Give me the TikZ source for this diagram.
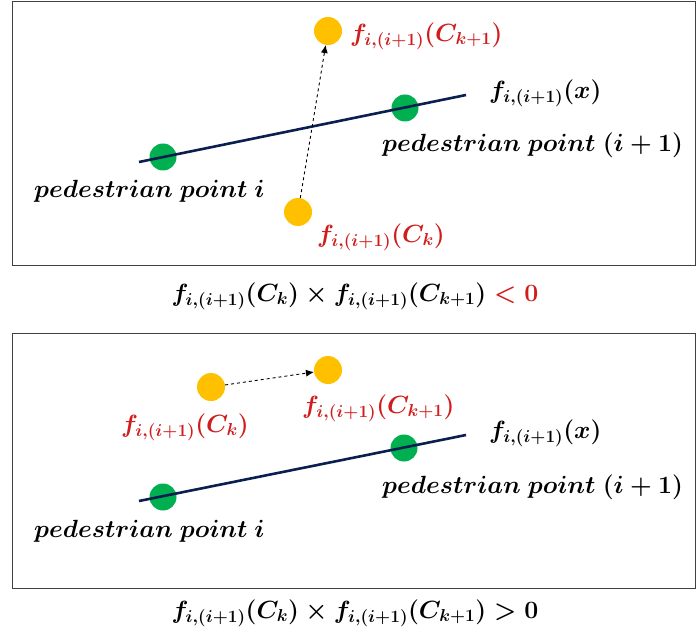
\documentclass[tikz,border=0pt]{standalone}
\usepackage{amsmath,bm}
\usetikzlibrary{arrows.meta}
\definecolor{redlab}{HTML}{D01C1C}
\definecolor{dotyellow}{HTML}{FFC000}
\definecolor{dotgreen}{HTML}{00B050}
\definecolor{navyline}{HTML}{0A1F4F}
\definecolor{boxgray}{HTML}{404040}
\begin{document}
\begin{tikzpicture}[x=1pt,y=-1pt,
  panel/.style={draw=boxgray,line width=1pt},
  gdot/.style={circle,fill=dotgreen,inner sep=0pt,minimum size=27pt},
  ydot/.style={circle,fill=dotyellow,inner sep=0pt,minimum size=28pt},
  fline/.style={draw=navyline,line width=2.6pt},
  move/.style={dashed,line width=0.9pt,-{Latex[length=8pt,width=7pt]}},
  lab/.style={inner sep=0pt,font=\fontsize{23.5}{28}\selectfont\boldmath},
  rlab/.style={lab,text=redlab}]
\useasboundingbox (0,0) rectangle (696,639);
% ---------- top panel ----------
\draw[panel] (12,2) rectangle (695.5,265);
\node[gdot] (g1) at (163,157) {};
\node[gdot] (g2) at (405,108) {};
\coordinate (l1s) at (139,162);
\coordinate (l1e) at (466,95);
\draw[fline] (l1s) -- (l1e);
\node[ydot] (y1b) at (298,212) {};
\node[ydot] (y1t) at (328,31) {};
\draw[move] (y1b) -- (y1t);
\node[lab,anchor=west] (p1a) at (34,191) {$pedestrian\ point\ i$};
\node[lab,anchor=west] (p1b) at (382,145) {$pedestrian\ point\ (i+1)$};
\node[lab,anchor=west] (fx1) at (489,93) {$f_{i,(i+1)}(x)$};
\node[rlab,anchor=west] (c1t) at (350,36) {$f_{i,(i+1)}(C_{k+1})$};
\node[rlab,anchor=west] (c1b) at (317,237) {$f_{i,(i+1)}(C_{k})$};
\node[lab] (eq1) at (355,296) {$f_{i,(i+1)}(C_k)\times f_{i,(i+1)}(C_{k+1})\mathrel{\textcolor{redlab}{<}}\textcolor{redlab}{0}$};
% ---------- bottom panel ----------
\draw[panel] (12,333) rectangle (695.5,588);
\node[gdot] (g3) at (163,497) {};
\node[gdot] (g4) at (404,448) {};
\coordinate (l2s) at (139,501);
\coordinate (l2e) at (466,435);
\draw[fline] (l2s) -- (l2e);
\node[ydot] (y2l) at (211,387) {};
\node[ydot] (y2r) at (328,370) {};
\draw[move] (y2l) -- (y2r);
\node[rlab,anchor=west] (c2l) at (121,427) {$f_{i,(i+1)}(C_{k})$};
\node[rlab,anchor=west] (c2r) at (302,408) {$f_{i,(i+1)}(C_{k+1})$};
\node[lab,anchor=west] (fx2) at (489,433) {$f_{i,(i+1)}(x)$};
\node[lab,anchor=west] (p2b) at (382,487) {$pedestrian\ point\ (i+1)$};
\node[lab,anchor=west] (p2a) at (34,531) {$pedestrian\ point\ i$};
\node[lab] (eq2) at (355,613) {$f_{i,(i+1)}(C_k)\times f_{i,(i+1)}(C_{k+1})>0$};
\end{tikzpicture}
\end{document}
